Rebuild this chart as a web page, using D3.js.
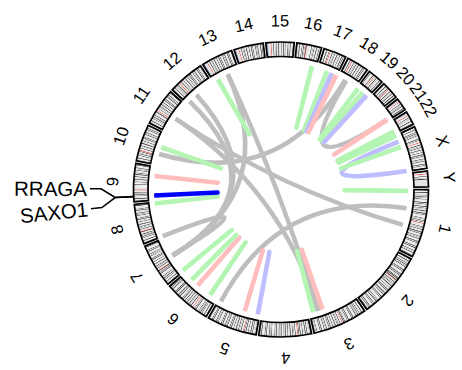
<!DOCTYPE html>
<html><head><meta charset="utf-8">
<script src="https://cdn.jsdelivr.net/npm/d3@7"></script>
<style>body{margin:0;background:#fff}svg{display:block}</style>
</head><body>
<script>
// ---------------- data ----------------
const chromosomes = ["1","2","3","4","5","6","7","8","9","10","11","12","13","14","15","16","17","18","19","20","21","22","X","Y"];
const chromLengthsMb = [248.96,242.19,198.30,190.21,181.54,170.81,159.35,145.14,138.39,133.80,135.09,133.28,114.36,107.04,101.99,90.34,83.26,80.37,58.62,64.44,46.71,50.82,156.04,57.23];
const centromereMb = [123.4,93.9,90.9,50.0,48.8,59.8,60.1,45.2,43.0,39.8,53.4,35.5,17.7,17.2,19.0,36.8,25.1,18.5,26.2,28.1,12.0,15.0,60.6,10.4];
// stain codes per band (p arm / q arm): n gneg, l gpos25, m gpos50, d gpos75, k gpos100, v gvar, s stalk
const bandsP = [
 "nknlnkdnmnknlkndnknmnlnkdnknmnklnkndnmknlnkdnknmnlnkndnkmnkn",
 "nknmnkdnlnknmkndnknlnmnkdnknmnlnkdnknmnlknkdnk",
 "nknmnkdnlnknmkndnknlnmnkdnknmnlnkdnknmnlknkdn",
 "nkndnlnkmnkdnlnknmnkdnkn",
 "nkndnlnkmnkdnlnknmnkdnkn",
 "nknmnkdnlnknmkndnknlnmnkdnknmn",
 "nknlnkdnmnknlkndnknmnlnkdnkmnk",
 "nknmnkdnlnknmkndnknlnk",
 "nknmnkdnlnknmkndnknln",
 "nknmnkdnlnknmkndnkn",
 "nknmnkdnlnknmkndnknlnmnkdn",
 "nknmnkdnlnknmkndn",
 "sssvvvvv","sssvvvvv","sssvvvvv",
 "nknmnkdnlnknmkndnk",
 "nknmnkdnlnkn",
 "nknmnkdnl",
 "nlnknlnmnkln",
 "nknmnkdnlnknm",
 "sssvvv","sssvvvv",
 "nknmnkdnlnknmkndnknlnmnkdnknmn",
 "nknln"];
const bandsQ = [
 "vvvvnkndnmknlnkdnknmnlkndnkmnlnkdnknmnlnkdnkmnlnkndnkmnlnkn",
 "nlnkmndnknlnkdnmnknlnkdnknmnlkndnkmnlnkdnknmnlnkndnkmnlnkdnknmnlnkdnkmnlkn",
 "nlnkmndnknlnkdnmnknlnkdnknmnlkndnkmnlnkdnknmnlnkndnkn",
 "nlnkmndnknlnkdnmnknlnkdnknmnlkndnkmnlnkdnknmnlnkndnkmnlnkdnknmnlnkdnkn",
 "nlnkmndnknlnkdnmnknlnkdnknmnlkndnkmnlnkdnknmnlnkndnkmnlnkdnknmnlkn",
 "nlnkmndnknlnkdnmnknlnkdnknmnlkndnkmnlnkdnknmnlnkndnkmkn",
 "nlnkmndnknlnkdnmnknlnkdnknmnlkndnkmnlnkdnknmnlnkdn",
 "nlnkmndnknlnkdnmnknlnkdnknmnlkndnkmnlnkdnknmnlnkdn",
 "vvvvvvnlnkmndnknlnkdnmnknlnkdnknmnlkndnkmnlnkdn",
 "nlnkmndnknlnkdnmnknlnkdnknmnlkndnkmnlnkdnknmnk",
 "nlnkmndnknlnkdnmnknlnkdnknmnlkndnkmnlnkn",
 "nlnkmndnknlnkdnmnknlnkdnknmnlkndnkmnlnkdnknmnlkn",
 "nlnkmndnknlnkdnmnknlnkdnknmnlkndnkmnlnkdnknmnlkn",
 "nlnkmndnknlnkdnmnknlnkdnknmnlkndnkmnlnkdnknm",
 "nlnkmndnknlnkdnmnknlnkdnknmnlkndnkmnlnkn",
 "vvvvvnlnkmndnknlnkdnmnknln",
 "nlnkmndnknlnkdnmnknlnkdnknmn",
 "nlnkmndnknlnkdnmnknlnkdnknmnlk",
 "nlnkmndnlnkdnln",
 "nlnkmndnknlnkdnmn",
 "nlnkmndnknlnkdnk",
 "nlnkmndnlnkdnmnkn",
 "nlnkmndnknlnkdnmnknlnkdnknmnlkndnkmnlnkdnknmnlk",
 "nlnkmndnkvvvvvvvvvvvvv"];

// inter-chromosomal links (grey)
const linkChrA = ["10","11","11","12","12","13","13","5","18","8"];
const linkPosA = [46,65,66,14,53,67,66,170,36,1];
const linkChrB = ["18","1","3","7","7","3","7","1","21","7"];
const linkPosB = [30,149,160,80,78,162,79,78,41,81];

// intra-chromosomal structural variants
const svChr   = ["1","3","3","5","5","6","6","6","7","8","9","10","13","16","17","17","17","19","19","19","21","22","X","X","X"];
const svStart = [5,182,142,7,63,31,96,130,4,140,100,75,20,72,38,60,80,5,30,50,40,41,1,28,52];
const svEnd   = [6,183,143,8,64,32,97,131,5,141,101,76,21,73,39,61,81,6,31,51,42,42,2,155,53];
const svType  = ["DUP","DUP","DEL","INV","DEL","DUP","DEL","DUP","DUP","DUP","DEL","DUP","DUP","DUP","DUP","INV","DEL","DUP","DUP","INV","DEL","DUP","DUP","INV","DUP"];

// highlighted fusion
const geneNames = ["RRAGA","SAXO1"];
const geneChr = ["9","9"];
const genePosMb = [19.05,19.0];

// ---------------- layout / style ----------------
const W = 462, H = 370, cx = 281, cy = 189.5;
const rOuter = 147.5, rInner = 133, rLink = 127, rLabel = 163;
const gapDeg = 1;
const stainColor = {n:"#FFFFFF", l:"#D2D2D2", m:"#C8C8C8", d:"#828282", k:"#000000", a:"#D92F27", v:"#DCDCDC", s:"#647FA4"};
const svColor = {DEL:"#FFBDBD", DUP:"#B4F5B4", INV:"#BDBDFF"};

const svg = d3.select("body").append("svg").attr("width", W).attr("height", H);
const g = svg.append("g");

const degPerMb = (360 - gapDeg * chromosomes.length) / d3.sum(chromLengthsMb);
const scales = {};
let acc = 0;
chromosomes.forEach((c, i) => {
  const a0 = acc, a1 = acc + chromLengthsMb[i] * degPerMb;
  scales[c] = d3.scaleLinear().domain([0, chromLengthsMb[i]]).range([a0, a1]);
  acc = a1 + gapDeg;
});
const rad = d => d * Math.PI / 180;
const pt = (deg, r) => [cx + r * Math.cos(rad(deg)), cy + r * Math.sin(rad(deg))];
const arc = d3.arc().innerRadius(rInner).outerRadius(rOuter);
const arcA = (a0, a1) => arc({startAngle: rad(a0 + 90), endAngle: rad(a1 + 90)});

// ideogram bands
const ring = g.append("g").attr("transform", `translate(${cx},${cy})`);
chromosomes.forEach((c, i) => {
  const s = scales[c], cen = centromereMb[i], len = chromLengthsMb[i];
  const bands = [];
  const p = bandsP[i], q = bandsQ[i];
  const pEnd = cen - 1.2, qStart = cen + 1.2;
  for (let j = 0; j < p.length; j++) bands.push([pEnd * j / p.length, pEnd * (j + 1) / p.length, p[j]]);
  bands.push([pEnd, qStart, "a"]);
  for (let j = 0; j < q.length; j++) bands.push([qStart + (len - qStart) * j / q.length, qStart + (len - qStart) * (j + 1) / q.length, q[j]]);
  ring.selectAll(null).data(bands).enter().append("path")
    .attr("d", b => arcA(s(b[0]), s(b[1])))
    .attr("fill", b => stainColor[b[2]])
    .attr("stroke", "none");
  ring.append("path").attr("d", arcA(s(0), s(len)))
    .attr("fill", "none").attr("stroke", "#000").attr("stroke-width", 1.7);
});

// chromosome labels
chromosomes.forEach((c, i) => {
  const mid = scales[c](chromLengthsMb[i] / 2);
  const [x, y] = pt(mid, rLabel);
  g.append("text").attr("x", x).attr("y", y)
    .attr("transform", `rotate(${mid + 90},${x},${y})`)
    .attr("text-anchor", "middle")
    .attr("font-family", "Liberation Sans, Arial, sans-serif").attr("font-size", 16.5)
    .attr("fill", "#000").text(c);
});

// links
const linkPath = (a1, a2) => {
  const [x1, y1] = pt(a1, rLink), [x2, y2] = pt(a2, rLink);
  const p = d3.path(); p.moveTo(x1, y1); p.quadraticCurveTo(cx, cy, x2, y2); return p.toString();
};
const links = g.append("g").attr("fill", "none").attr("stroke-linecap", "butt");
linkChrA.forEach((c, i) => {
  links.append("path")
    .attr("d", linkPath(scales[c](linkPosA[i]), scales[linkChrB[i]](linkPosB[i])))
    .attr("stroke", "#BEBEBE").attr("stroke-width", 4.5);
});
svChr.forEach((c, i) => {
  links.append("path")
    .attr("d", linkPath(scales[c](svStart[i]), scales[c](svEnd[i])))
    .attr("stroke", svColor[svType[i]]).attr("stroke-width", 4.5);
});
links.append("path")
  .attr("d", linkPath(scales[geneChr[0]](genePosMb[1]), scales[geneChr[1]](genePosMb[0])))
  .attr("stroke", "#0000FF").attr("stroke-width", 4.5);

// gene labels with connectors
const gLab = g.append("g");
const labelOffsets = [3, -3];
geneNames.forEach((name, i) => {
  const gd = scales[geneChr[i]](genePosMb[i]);
  const ld = gd + labelOffsets[i];
  const pts = [pt(gd, rOuter + 0.5), pt(gd, 166), pt(ld, 180), pt(ld, 191)];
  gLab.append("path").attr("d", d3.line()(pts))
    .attr("fill", "none").attr("stroke", "#000").attr("stroke-width", 1.6);
  const [tx, ty] = pt(ld, 194);
  gLab.append("text").attr("x", tx).attr("y", ty).attr("dy", "0.36em")
    .attr("transform", `rotate(${ld - 180},${tx},${ty})`)
    .attr("text-anchor", "end")
    .attr("font-family", "Liberation Sans, Arial, sans-serif").attr("font-size", 20.5)
    .attr("fill", "#000").text(name);
});
</script>
</body></html>
